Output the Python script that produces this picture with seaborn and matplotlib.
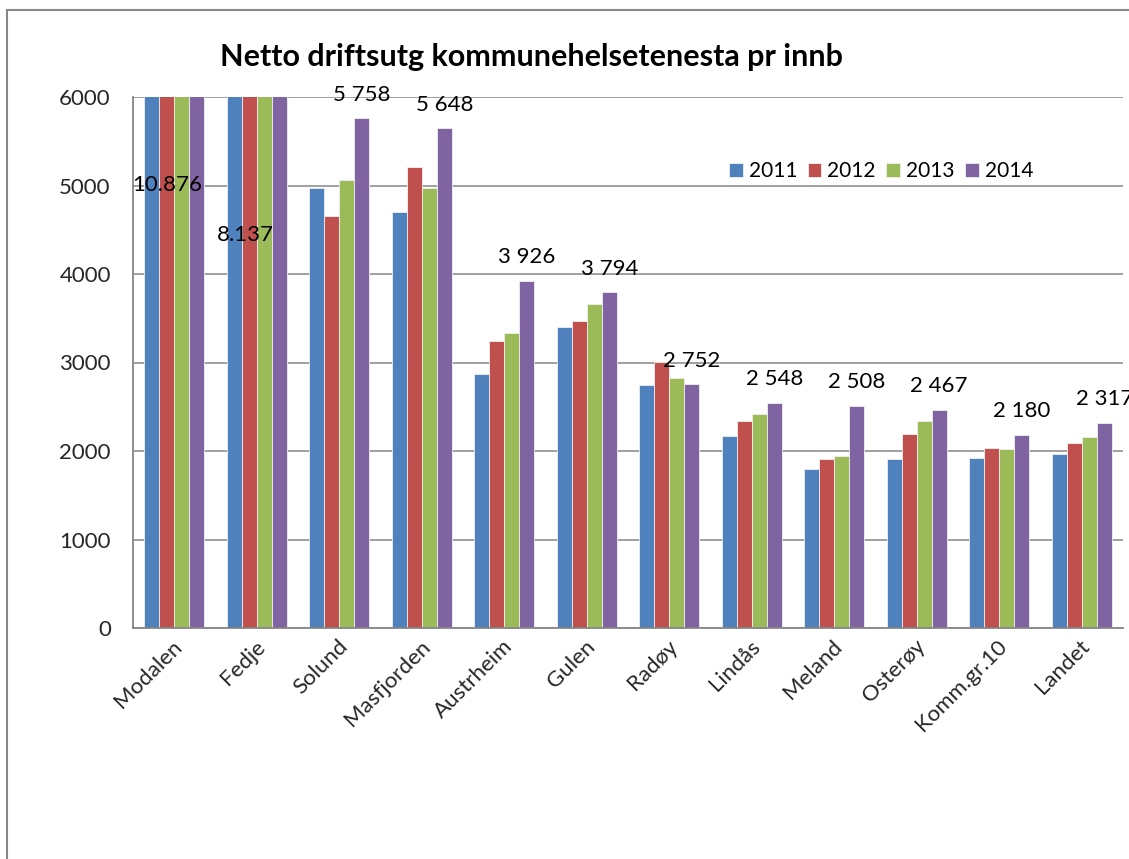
import matplotlib
matplotlib.use("Agg")
import matplotlib.pyplot as plt
import matplotlib.transforms as mtrans
import seaborn as sns
import pandas as pds
from matplotlib.lines import Line2D

# data
kommunar = ["Modalen", "Fedje", "Solund", "Masfjorden", "Austrheim", "Gulen",
            "Radøy", "Lindås", "Meland", "Osterøy", "Komm.gr.10", "Landet"]
aar = ["2011", "2012", "2013", "2014"]
v2011 = [9300, 7300, 4970, 4700, 2870, 3400, 2750, 2170, 1800, 1915, 1920, 1965]
v2012 = [9900, 7600, 4655, 5210, 3245, 3465, 3005, 2340, 1905, 2190, 2035, 2085]
v2013 = [10300, 7900, 5060, 4970, 3330, 3665, 2825, 2420, 1945, 2340, 2020, 2160]
v2014 = [10876, 8137, 5758, 5648, 3926, 3794, 2752, 2548, 2508, 2467, 2180, 2317]
farger = ["#4F81BD", "#C0504D", "#9BBB59", "#8064A2"]

rows = []
for year, vals in zip(aar, [v2011, v2012, v2013, v2014]):
    for k, v in zip(kommunar, vals):
        rows.append({"kommune": k, "aar": year, "verdi": v})
df = pds.DataFrame(rows)

sns.set_style("white")
plt.rcParams["font.family"] = ["Lato", "DejaVu Sans"]
plt.rcParams["text.color"] = "black"
FS = 16

W, H = 1129, 859
fig = plt.figure(figsize=(W / 100, H / 100), dpi=100)
fig.patch.set_facecolor("white")
ax = fig.add_axes([133 / W, 1 - 628 / H, (1123 - 133) / W, (628 - 97) / H])

sns.barplot(data=df, x="kommune", y="verdi", hue="aar", palette=farger,
            width=4 / 5.5, gap=0, ax=ax, edgecolor="#f0f0f0", linewidth=0.6,
            saturation=1, errorbar=None)

ax.set_ylim(0, 6000)
ax.set_xlim(-0.5, len(kommunar) - 0.5)
ax.set_yticks(range(0, 6001, 1000))
ax.yaxis.grid(True, color="#868686", linewidth=1.1)
ax.set_axisbelow(True)
for s in ["top", "right"]:
    ax.spines[s].set_visible(False)
for s in ["left", "bottom"]:
    ax.spines[s].set_color("#868686")
    ax.spines[s].set_linewidth(1.3)
ax.tick_params(axis="y", length=0, pad=16, labelsize=FS)
ax.tick_params(axis="x", length=0, pad=11, labelsize=FS)
shift = mtrans.ScaledTranslation(5 / 100, 0, fig.dpi_scale_trans)
for lab in ax.get_xticklabels():
    lab.set_rotation(45)
    lab.set_ha("right")
    lab.set_va("center")
    lab.set_rotation_mode("anchor")
    lab.set_transform(lab.get_transform() + shift)
ax.set_xlabel("")
ax.set_ylabel("")

# value labels for 2014
def fmt(v, sep):
    return f"{v:,}".replace(",", sep)

n = len(aar)
bw = (4 / 5.5) / n
for i, v in enumerate(v2014):
    if v > 6000:
        continue
    xp = i + bw * 1.5
    ax.annotate(fmt(v, " "), (xp, v), xytext=(0, 17), textcoords="offset points",
                ha="center", va="center", fontsize=FS)
ax.text(-0.09, 5006, fmt(v2014[0], "."), ha="center", va="center", fontsize=FS)
ax.text(0.86, 4441, fmt(v2014[1], "."), ha="center", va="center", fontsize=FS)

leg = ax.legend(loc="center left", bbox_to_anchor=(729 / W, 1 - 171 / H),
                bbox_transform=fig.transFigure, ncol=4, frameon=False,
                fontsize=15, handlelength=0.65, handleheight=0.65,
                handletextpad=0.3, columnspacing=0.5, borderpad=0,
                borderaxespad=0)

fig.text(531 / W, 1 - 57 / H, "Netto driftsutg kommunehelsetenesta pr innb",
         ha="center", va="center", fontsize=22, fontweight="bold")

# outer chart frame (only top and left edges are inside the picture)
x0, y0 = 7 / W, 1 - 10 / H
fig.add_artist(Line2D([x0, 1.0], [y0, y0], transform=fig.transFigure,
                      color="#888888", linewidth=1.5))
fig.add_artist(Line2D([x0, x0], [0.0, y0], transform=fig.transFigure,
                      color="#888888", linewidth=1.5))

fig.savefig("out.png", dpi=100, facecolor="white")
